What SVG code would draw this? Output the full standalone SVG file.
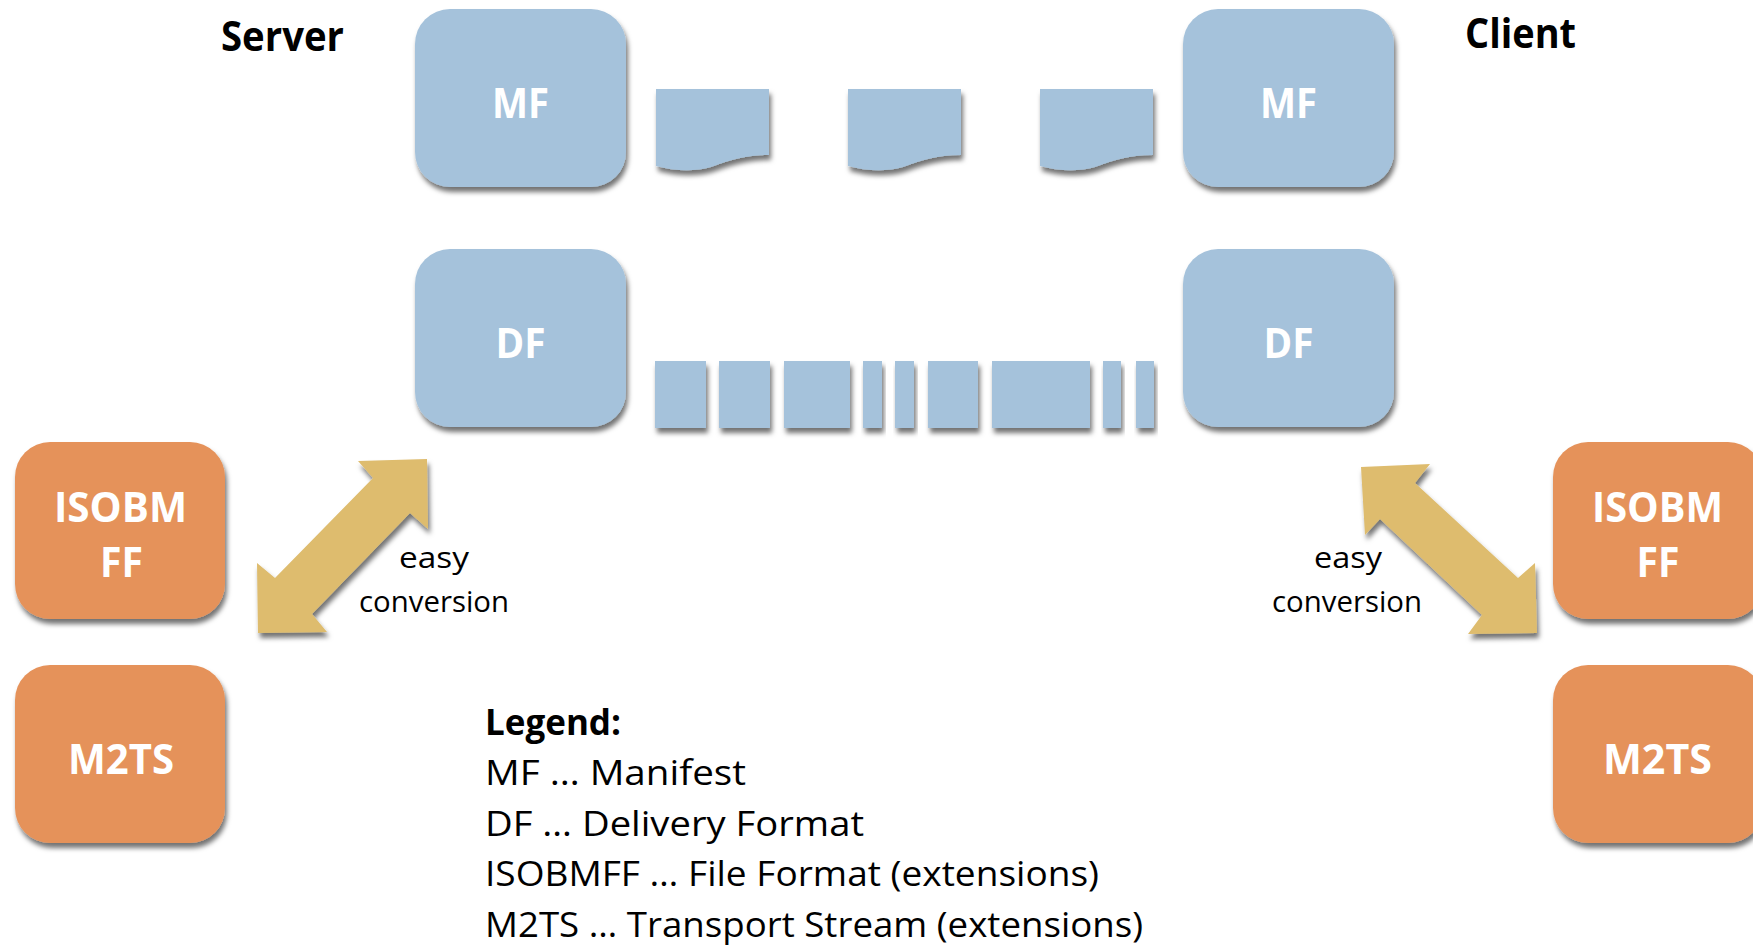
<svg xmlns="http://www.w3.org/2000/svg" width="1753" height="945" viewBox="0 0 1753 945">
  <defs>
    <filter id="shadow" x="-10%" y="-10%" width="130%" height="140%">
      <feDropShadow dx="2" dy="5" stdDeviation="2.5" flood-color="#000" flood-opacity="0.55"/>
    </filter>
    <path id="doc" d="M0,77 C18,82 38,83 55,78 C72,72 88,66 113,66 V0 H0 Z"/>
  </defs>
  <style>
    .blue { fill: #A5C2DB; filter: url(#shadow); }
    .orange { fill: #E5925A; filter: url(#shadow); }
    .arrow { fill: #DEBC6E; filter: url(#shadow); }
    .lbl { font-family: "Open Sans", "Liberation Sans", sans-serif; font-weight: bold; fill: #FFFFFF; font-size: 42px; text-anchor: middle; }
    .head { font-family: "Open Sans", "Liberation Sans", sans-serif; font-weight: bold; fill: #000; font-size: 42px; }
    .note { font-family: "Open Sans", "Liberation Sans", sans-serif; fill: #000; font-size: 30px; text-anchor: middle; }
    .leg { font-family: "Open Sans", "Liberation Sans", sans-serif; fill: #000; font-size: 35px; }
  </style>

  <rect width="1753" height="945" fill="#FFFFFF"/>

  <!-- side headings -->
  <text class="head" x="221" y="51" textLength="123" lengthAdjust="spacingAndGlyphs">Server</text>
  <text class="head" x="1465" y="48" textLength="111" lengthAdjust="spacingAndGlyphs">Client</text>

  <!-- server nodes -->
  <g id="mf-server">
    <rect class="blue" x="415" y="9" width="211" height="178" rx="35"/>
    <text class="lbl" x="520.5" y="118" textLength="57" lengthAdjust="spacingAndGlyphs">MF</text>
  </g>
  <g id="df-server">
    <rect class="blue" x="415" y="249" width="211" height="178" rx="35"/>
    <text class="lbl" x="520.5" y="358" textLength="50" lengthAdjust="spacingAndGlyphs">DF</text>
  </g>

  <!-- client nodes -->
  <g id="mf-client">
    <rect class="blue" x="1183" y="9" width="211" height="178" rx="35"/>
    <text class="lbl" x="1288.5" y="118" textLength="57" lengthAdjust="spacingAndGlyphs">MF</text>
  </g>
  <g id="df-client">
    <rect class="blue" x="1183" y="249" width="211" height="178" rx="35"/>
    <text class="lbl" x="1288.5" y="358" textLength="50" lengthAdjust="spacingAndGlyphs">DF</text>
  </g>

  <!-- manifest documents in transit -->
  <g id="manifest-docs">
    <use href="#doc" class="blue" x="656" y="89"/>
    <use href="#doc" class="blue" x="848" y="89"/>
    <use href="#doc" class="blue" x="1040" y="89"/>
  </g>

  <!-- delivery format segments in transit -->
  <g id="segments">
    <rect class="blue" x="655" y="361" width="51" height="67"/>
    <rect class="blue" x="719" y="361" width="51" height="67"/>
    <rect class="blue" x="784" y="361" width="66" height="67"/>
    <rect class="blue" x="863" y="361" width="19" height="67"/>
    <rect class="blue" x="895" y="361" width="19" height="67"/>
    <rect class="blue" x="928" y="361" width="50" height="67"/>
    <rect class="blue" x="992" y="361" width="98" height="67"/>
    <rect class="blue" x="1103" y="361" width="18" height="67"/>
    <rect class="blue" x="1136" y="361" width="18" height="67"/>
  </g>

  <!-- container formats -->
  <g id="isobmff-server">
    <rect class="orange" x="15" y="442" width="210" height="177" rx="35"/>
    <text class="lbl" x="120.5" y="522" textLength="133" lengthAdjust="spacingAndGlyphs">ISOBM</text>
    <text class="lbl" x="121.5" y="577" textLength="43" lengthAdjust="spacingAndGlyphs">FF</text>
  </g>
  <g id="m2ts-server">
    <rect class="orange" x="15" y="665" width="210" height="178" rx="35"/>
    <text class="lbl" x="121" y="774" textLength="106" lengthAdjust="spacingAndGlyphs">M2TS</text>
  </g>
  <g id="isobmff-client">
    <rect class="orange" x="1553" y="442" width="210" height="177" rx="35"/>
    <text class="lbl" x="1657.5" y="522" textLength="131" lengthAdjust="spacingAndGlyphs">ISOBM</text>
    <text class="lbl" x="1658" y="577" textLength="43" lengthAdjust="spacingAndGlyphs">FF</text>
  </g>
  <g id="m2ts-client">
    <rect class="orange" x="1553" y="665" width="210" height="178" rx="35"/>
    <text class="lbl" x="1657.5" y="774" textLength="109" lengthAdjust="spacingAndGlyphs">M2TS</text>
  </g>

  <!-- conversion arrows -->
  <g id="connectors">
    <polygon class="arrow" points="427,459 428,529 410,513 312,614 327,632 258,633 257,563 275,578 373,478 358,461"/>
    <polygon class="arrow" points="1361,467 1430,464 1415,483 1518,578 1535,563 1537,633 1468,634 1482,615 1380,519 1365,535"/>
  </g>
  <g id="connector-labels">
    <text class="note" x="434" y="568" textLength="70" lengthAdjust="spacingAndGlyphs">easy</text>
    <text class="note" x="434" y="612" textLength="150" lengthAdjust="spacingAndGlyphs">conversion</text>
    <text class="note" x="1348" y="568" textLength="68" lengthAdjust="spacingAndGlyphs">easy</text>
    <text class="note" x="1347" y="612" textLength="150" lengthAdjust="spacingAndGlyphs">conversion</text>
  </g>

  <!-- legend -->
  <g id="legend">
    <text class="leg" x="485" y="735" font-weight="bold" font-size="37" textLength="136" lengthAdjust="spacingAndGlyphs">Legend:</text>
    <text class="leg" x="485" y="785" textLength="261" lengthAdjust="spacingAndGlyphs">MF … Manifest</text>
    <text class="leg" x="485" y="836" textLength="379" lengthAdjust="spacingAndGlyphs">DF … Delivery Format</text>
    <text class="leg" x="485" y="886" textLength="614" lengthAdjust="spacingAndGlyphs">ISOBMFF … File Format (extensions)</text>
    <text class="leg" x="485" y="937" textLength="658" lengthAdjust="spacingAndGlyphs">M2TS … Transport Stream (extensions)</text>
  </g>
</svg>
